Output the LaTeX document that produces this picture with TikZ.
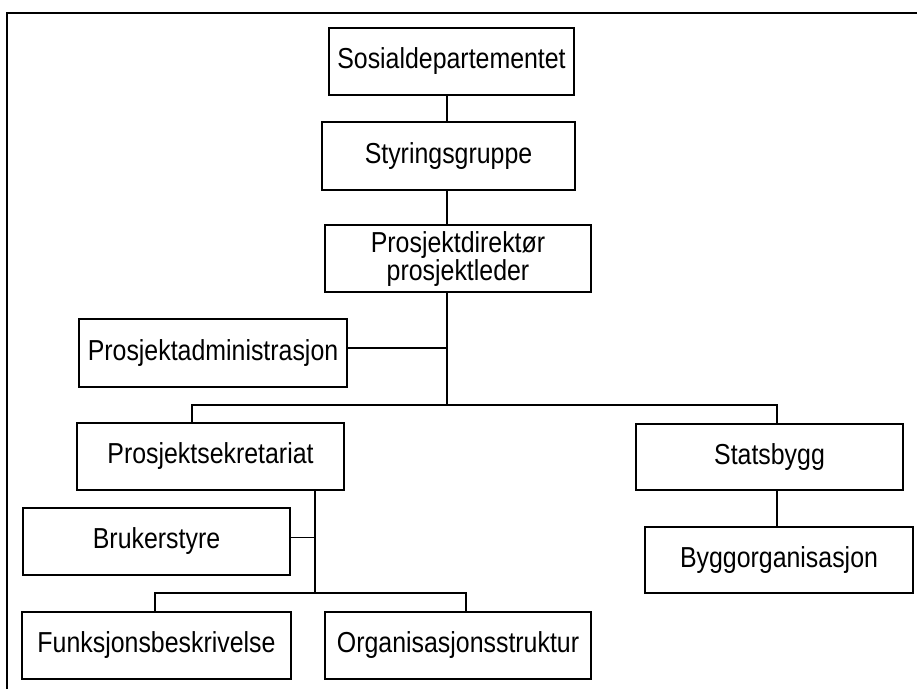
\documentclass[tikz,border=0pt]{standalone}
\usepackage{fontspec}
\setmainfont{Liberation Sans}
\newcommand\sx[1]{\scalebox{1}[1.16]{#1}}
\begin{document}
\begin{tikzpicture}[x=1pt,y=-1pt,
  orgbox/.style={draw, line width=1.1pt, inner sep=0pt, minimum height=67pt, align=center,
    font=\fontsize{24.9}{28}\selectfont},
  link/.style={line width=1.1pt},
  frame/.style={line width=2pt}]
\useasboundingbox (0,0) rectangle (917,689);
\fill[white] (0,0) rectangle (917,689);
\draw[frame] (7,689) -- (7,12.7) -- (917,12.7);

\node[orgbox, minimum width=245pt] (sos) at (451.5,61.5) {\sx{Sosialdepartementet}};
\node[orgbox, minimum width=253pt, minimum height=68pt] (sty) at (448.5,156) {\sx{Styringsgruppe}};
\node[orgbox, minimum width=266pt, text depth=4pt] (dir) at (458,258.5) {\sx{Prosjektdirektør}\\\sx{prosjektleder}};
\node[orgbox, minimum width=268pt, minimum height=68pt] (adm) at (213,353) {\sx{Prosjektadministrasjon}};
\node[orgbox, minimum width=267pt] (sek) at (210.5,456.5) {\sx{Prosjektsekretariat}};
\node[orgbox, minimum width=267pt, minimum height=66pt] (stat) at (769.5,457) {\sx{Statsbygg}};
\node[orgbox, minimum width=268pt, minimum height=66pt] (bygg) at (779,560) {\sx{Byggorganisasjon}};
\node[orgbox, minimum width=267pt] (bruk) at (156.5,541.5) {\sx{Brukerstyre}};
\node[orgbox, minimum width=269pt] (funk) at (156.5,645.5) {\sx{Funksjonsbeskrivelse}};
\node[orgbox, minimum width=266pt] (org) at (458,645.5) {\sx{Organisasjonsstruktur}};

\coordinate (bus) at (447,405);
\coordinate (busL) at (192,405);
\coordinate (busR) at (777,405);
\coordinate (sv) at (315,593);
\coordinate (bL) at (155,593);
\coordinate (bR) at (466,593);

\draw[link] (sos.south -| bus) -- (sty.north -| bus);
\draw[link] (sty.south -| bus) -- (dir.north -| bus);
\draw[link] (dir.south -| bus) -- (bus);
\draw[link] ([yshift=5pt]adm.east) -- ([yshift=5pt,xshift=1pt]adm.east -| bus);
\draw[link] (sek.north -| busL) -- (busL) -- (busR) -- (stat.north -| busR);
\draw[link] (stat.south -| busR) -- (bygg.north -| busR);
\draw[link] (sek.south -| sv) -- (sv);
\draw[link] ([yshift=4pt]bruk.east) -- ([yshift=4pt]bruk.east -| sv);
\draw[link] (funk.north -| bL) -- (bL) -- (bR) -- (org.north -| bR);
\end{tikzpicture}
\end{document}
